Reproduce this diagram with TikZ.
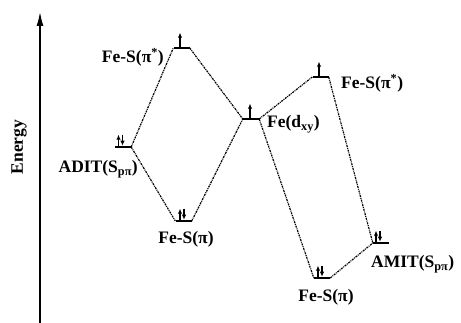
\documentclass[tikz,border=0pt]{standalone}
\usepackage{fontspec}
\setmainfont{Liberation Serif}
\usetikzlibrary{arrows.meta,positioning}

\begin{document}
\begin{tikzpicture}[
  x=1pt, y=-1pt,
  every node/.style = {font=\fontsize{17.5}{19}\selectfont\bfseries, inner sep=0pt},
  lvl/.style  = {rectangle, minimum width=16pt, minimum height=2.2pt,
                 inner sep=0pt, fill=black},
  conn/.style = {line width=1.2pt, dash pattern=on 2pt off 0.9pt on 0.9pt off 0.9pt},
  spin/.style = {line width=1.2pt, -{Latex[length=5pt,width=4.5pt]}},
  axis/.style = {line width=1.4pt, -{Latex[length=14pt,width=7pt]}},
]
\useasboundingbox (0,0) rectangle (461,323);

% -- Energy axis ------------------------------------------------
\coordinate (ebot) at (40,323);
\coordinate (etop) at (40,12);
\draw[axis] (ebot) -- (etop);
\node[rotate=90] (elbl) at (19,147) {Energy};

% -- Levels ---------------------------------------------------
\node[lvl] (adit) at (123,147)   {};
\node[lvl] (fsA)  at (181.5,48)  {};
\node[lvl] (fpA)  at (183.5,221) {};
\node[lvl] (fe)   at (251,119)   {};
\node[lvl] (fsB)  at (320.5,77)  {};
\node[lvl] (fpB)  at (322,278)   {};
\node[lvl] (amit) at (381,243)   {};

% -- Electrons ------------------------------------------------
\draw[spin] ([xshift=-4.5pt]adit.north) -- ++(0,-11);
\draw[spin] ([xshift=-0.5pt]adit.north) ++(0,-11) -- ++(0,11);
\draw[spin] ([xshift=-1.5pt]fsA.north) -- ++(0,-14);
\draw[spin] ([xshift=-3.5pt]fpA.north) -- ++(0,-11);
\draw[spin] ([xshift=0.5pt]fpA.north) ++(0,-11) -- ++(0,11);
\draw[spin] ([xshift=-1pt]fe.north)  -- ++(0,-14);
\draw[spin] ([xshift=-1.5pt]fsB.north) -- ++(0,-14);
\draw[spin] ([xshift=-4pt]fpB.north) -- ++(0,-11);
\draw[spin] ([xshift=0pt]fpB.north) ++(0,-11) -- ++(0,11);
\draw[spin] ([xshift=-5pt]amit.north) -- ++(0,-11);
\draw[spin] ([xshift=-1pt]amit.north) ++(0,-11) -- ++(0,11);

% -- Correlation lines ----------------------------------------
\draw[conn] (adit.east) -- (fsA.west);
\draw[conn] (adit.east) -- (fpA.west);
\draw[conn] (fsA.east)  -- (fe.west);
\draw[conn] (fpA.east)  -- (fe.west);
\draw[conn] (fe.east)   -- (fsB.west);
\draw[conn] (fe.east)   -- (fpB.west);
\draw[conn] (fsB.east)  -- (amit.west);
\draw[conn] (fpB.east)  -- (amit.west);

% -- Labels ---------------------------------------------------
\node[anchor=base east] (lfsA)  at (164,63)  {Fe-S(π\textsuperscript{*})};
\node[anchor=base east] (ladit) at (138,173) {ADIT(S\textsubscript{pπ})};
\node[anchor=base]      (lfpA)  at (186,244) {Fe-S(π)};
\node[anchor=base west] (lfe)   at (267,128) {Fe(d\textsubscript{xy})};
\node[anchor=base west] (lfsB)  at (341,89)  {Fe-S(π\textsuperscript{*})};
\node[anchor=base west] (lamit) at (371,268) {AMIT(S\textsubscript{pπ})};
\node[anchor=base]      (lfpB)  at (326,302) {Fe-S(π)};

\end{tikzpicture}
\end{document}
